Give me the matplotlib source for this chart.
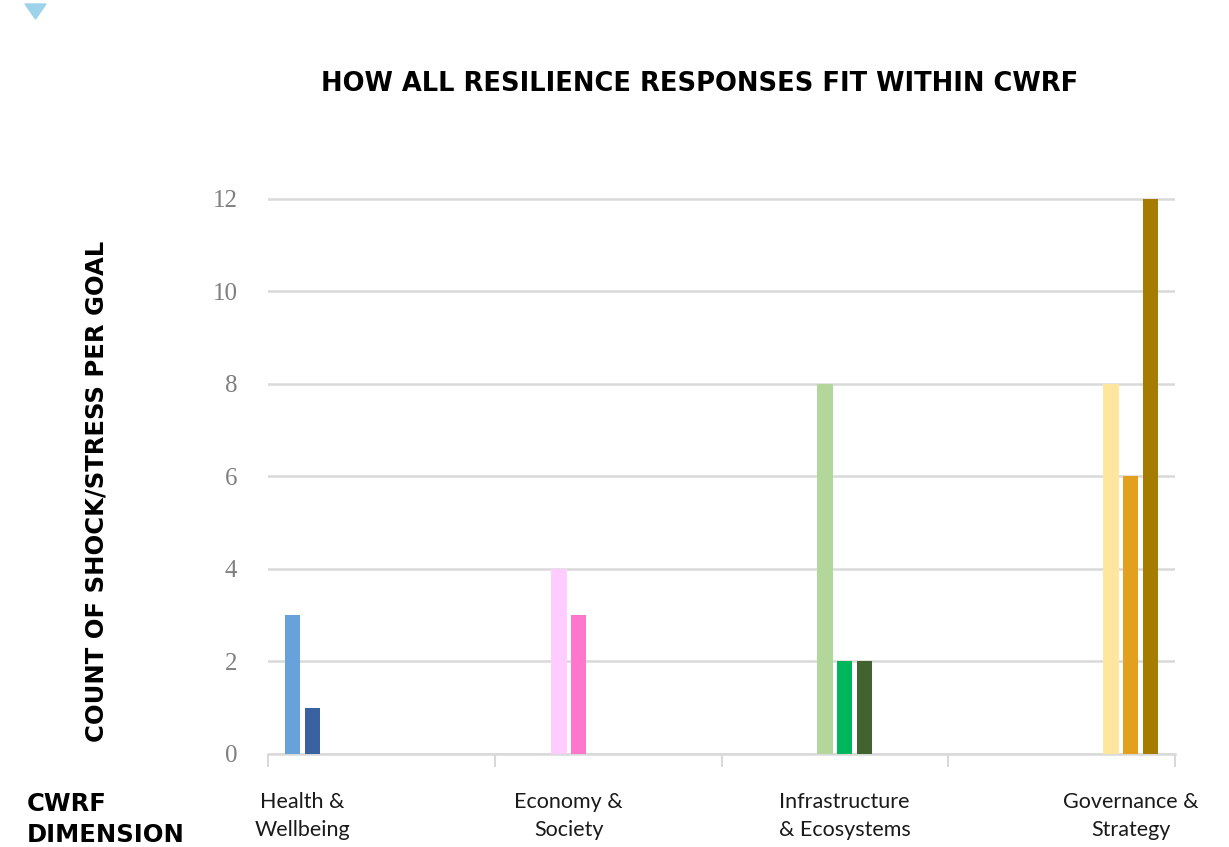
import matplotlib.pyplot as plt
from matplotlib.patches import Polygon
import numpy as np

categories = ['Health &\nWellbeing', 'Economy &\nSociety',
              'Infrastructure\n& Ecosystems', 'Governance &\nStrategy']
health = [3, 1]
economy = [4, 3]
infrastructure = [8, 2, 2]
governance = [8, 6, 12]
yticks = [0, 2, 4, 6, 8, 10, 12]

groups = [health, economy, infrastructure, governance]
colors = [['#67A3DA', '#3A62A0'],
          ['#FFCCFF', '#FF77CC'],
          ['#B3D79A', '#00B65A', '#43632E'],
          ['#FFE69F', '#E2A01E', '#A57C00']]

n_series = sum(len(g) for g in groups)
slot = 0.869 / n_series
bar_w = 0.0675

fig = plt.figure(figsize=(12.29, 8.47), dpi=100)
ax = fig.add_axes([268 / 1229, 1 - 754 / 847, 907 / 1229, 556 / 847])

j = 0
label_x = []
for i, (vals, cols) in enumerate(zip(groups, colors)):
    xs = []
    for v, c in zip(vals, cols):
        x = i + (j - (n_series - 1) / 2) * slot
        ax.bar(x, v, width=bar_w, color=c, zorder=3)
        xs.append(x)
        j += 1
    label_x.append(np.mean(xs))

ax.set_xlim(-0.5, 3.5)
ax.set_ylim(0, 12.02)
ax.set_yticks(yticks)
ax.set_yticklabels([str(t) for t in yticks], family='Liberation Serif',
                   fontsize=18, color='#7F7F7F')
ax.set_xticks(np.arange(-0.5, 4, 1))
ax.set_xticklabels([])
ax.tick_params(axis='y', length=0, pad=22)
ax.tick_params(axis='x', length=9, width=1.5, color='#D9D9D9')
ax.grid(axis='y', color='#D9D9D9', linewidth=1.8, zorder=0)
for s in ['top', 'right', 'left']:
    ax.spines[s].set_visible(False)
ax.spines['bottom'].set_color('#D9D9D9')
ax.spines['bottom'].set_linewidth(1.8)

for x, lab in zip(label_x, categories):
    ax.text(x, -0.82, lab, ha='center', va='top', family='Lato',
            fontsize=15.5, color='#1A1A1A', linespacing=1.5)

fig.text(700 / 1229, 1 - 84 / 847, 'HOW ALL RESILIENCE RESPONSES FIT WITHIN CWRF',
         ha='center', va='center', family='DejaVu Sans', weight='bold',
         fontsize=18.5, color='#000000')
fig.text(97 / 1229, 1 - 491 / 847, 'COUNT OF SHOCK/STRESS PER GOAL',
         ha='center', va='center', rotation=90, family='DejaVu Sans',
         weight='bold', fontsize=17.5, color='#000000')
fig.text(27 / 1229, 1 - 792 / 847, 'CWRF\nDIMENSION', ha='left', va='top',
         family='DejaVu Sans', weight='bold', fontsize=17.5, color='#000000',
         linespacing=1.35)

tri = Polygon([[25 / 1229, 1 - 4 / 847], [46 / 1229, 1 - 4 / 847],
               [35.5 / 1229, 1 - 19 / 847]], closed=True,
              transform=fig.transFigure, color='#9CD3EB')
fig.add_artist(tri)

fig.savefig('out.png', dpi=100)
